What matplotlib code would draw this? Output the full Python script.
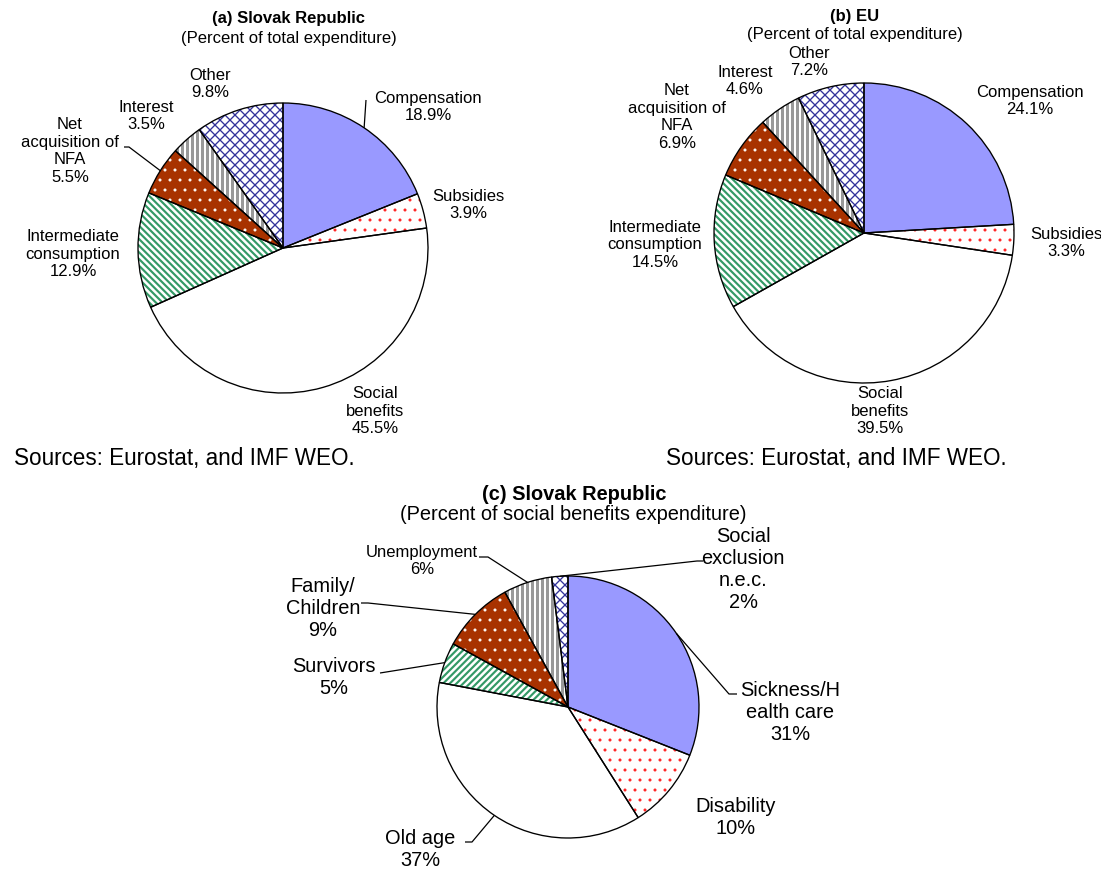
import numpy as np
import matplotlib
matplotlib.use("Agg")
import matplotlib.pyplot as plt

W, H, DPI = 1101, 869, 120
plt.rcParams['font.family'] = ['Liberation Sans', 'DejaVu Sans']
plt.rcParams['hatch.linewidth'] = 1.2

# ---- data -------------------------------------------------------------
total_categories = ["Compensation", "Subsidies", "Social\nbenefits",
                    "Intermediate\nconsumption", "Net\nacquisition of\nNFA",
                    "Interest", "Other"]
slovak_total = [18.9, 3.9, 45.5, 12.9, 5.5, 3.5, 9.8]
eu_total = [24.1, 3.3, 39.5, 14.5, 6.9, 4.6, 7.2]

social_categories = ["Sickness/H\nealth care", "Disability", "Old age",
                     "Survivors", "Family/\nChildren", "Unemployment",
                     "Social\nexclusion\nn.e.c."]
slovak_social = [31, 10, 37, 5, 9, 6, 2]

source_note = "Sources: Eurostat, and IMF WEO."

# ---- styles (face, hatch, hatch colour, hatch width) --------------------
def slice_styles(stripe):
    return [
        ("#9999FF", None, None, 0),
        ("white", "..", "#FF2020", 0.6),
        ("white", None, None, 0),
        ("white", stripe, "#339966", 1.3),
        ("#A83200", "..", "white", 0.6),
        ("white", "||||", "#999999", 1.8),
        ("white", "xxxx", "#333399", 0.8),
    ]

fig = plt.figure(figsize=(W / DPI, H / DPI), dpi=DPI)
ax = fig.add_axes([0, 0, 1, 1])


def iy(y):
    return H - y


def draw_pie(values, cx, cy, r, styles):
    kw = dict(startangle=90, counterclock=False,
              center=(cx, iy(cy)), radius=r, frame=True)
    wedges, _ = ax.pie(values, colors=[s[0] for s in styles],
                       wedgeprops=dict(linewidth=0), **kw)
    for w, (face, hatch, hcol, hlw) in zip(wedges, styles):
        if hatch:
            w.set_hatch(hatch)
            w.set_edgecolor(hcol)
            if hasattr(w, "set_hatch_linewidth"):
                w.set_hatch_linewidth(hlw)
    ax.pie(values, wedgeprops=dict(fill=False, edgecolor="black",
                                   linewidth=0.8), **kw)
    return wedges


def leader(wedge, cx, cy, r, pts):
    mid = np.deg2rad((wedge.theta1 + wedge.theta2) / 2)
    xs = [cx + r * np.cos(mid)] + [p[0] for p in pts]
    ys = [iy(cy) + r * np.sin(mid)] + [iy(p[1]) for p in pts]
    ax.plot(xs, ys, color="black", lw=0.75, solid_capstyle="butt")


def label(x, y, s, size, **kw):
    ax.text(x, iy(y), s, ha="center", va="center", fontsize=size,
            linespacing=1.2, **kw)


# ---- (a) Slovak Republic, total expenditure --------------------------
ca = (283, 248, 145)
wa = draw_pie(slovak_total, *ca, slice_styles("\\" * 6))
label(288, 18, "(a) Slovak Republic", 10, fontweight="bold")
label(289, 39, "(Percent of total expenditure)", 10)
pos_a = [(428, 107), (468, 205), (375, 411), (73, 254), (70, 151),
         (146, 116), (210, 84)]
for name, v, (x, y) in zip(total_categories, slovak_total, pos_a):
    label(x, y, f"{name}\n{v:.1f}%", 10)
leader(wa[0], *ca, [(366, 100)])
leader(wa[4], *ca, [(129, 147), (124, 147)])
ax.text(14, iy(458), source_note, ha="left", va="center", fontsize=13.5)

# ---- (b) EU, total expenditure ----------------------------------------
cb = (864, 233, 150)
draw_pie(eu_total, *cb, slice_styles("\\" * 6))
label(855, 17, "(b) EU", 10, fontweight="bold")
label(855, 35, "(Percent of total expenditure)", 10)
pos_b = [(1030, 101), (1066, 243), (880, 411), (655, 245), (677, 117),
         (745, 81), (809, 62)]
for name, v, (x, y) in zip(total_categories, eu_total, pos_b):
    label(x, y, f"{name}\n{v:.1f}%", 10)
ax.text(666, iy(458), source_note, ha="left", va="center", fontsize=13.5)

# ---- (c) Slovak Republic, social benefits -----------------------------
cc = (568, 707, 131)
wc = draw_pie(slovak_social, *cc, slice_styles("/" * 6))
label(574, 494, "(c) Slovak Republic", 12, fontweight="bold")
label(573, 514, "(Percent of social benefits expenditure)", 12)
pos_c = [(790, 713), (736, 818), (420, 849), (334, 678), (323, 609),
         (422, 561), (743, 569)]
sizes_c = [12, 12, 12, 12, 12, 10, 12]
for name, v, (x, y), fs in zip(social_categories, slovak_social, pos_c,
                                sizes_c):
    label(x, y, f"{name}\n{v:d}%", fs)
leader(wc[0], *cc, [(729, 694), (737, 694)])
leader(wc[2], *cc, [(472, 842), (465, 842)])
leader(wc[3], *cc, [(380, 673)])
leader(wc[4], *cc, [(368, 603), (361, 603)])
leader(wc[5], *cc, [(488, 557), (479, 557)])
leader(wc[6], *cc, [(697, 561), (703, 561)])

ax.set_xlim(0, W)
ax.set_ylim(0, H)
ax.set_aspect("auto")
ax.axis("off")
fig.savefig("out.png", dpi=DPI, facecolor="white")
